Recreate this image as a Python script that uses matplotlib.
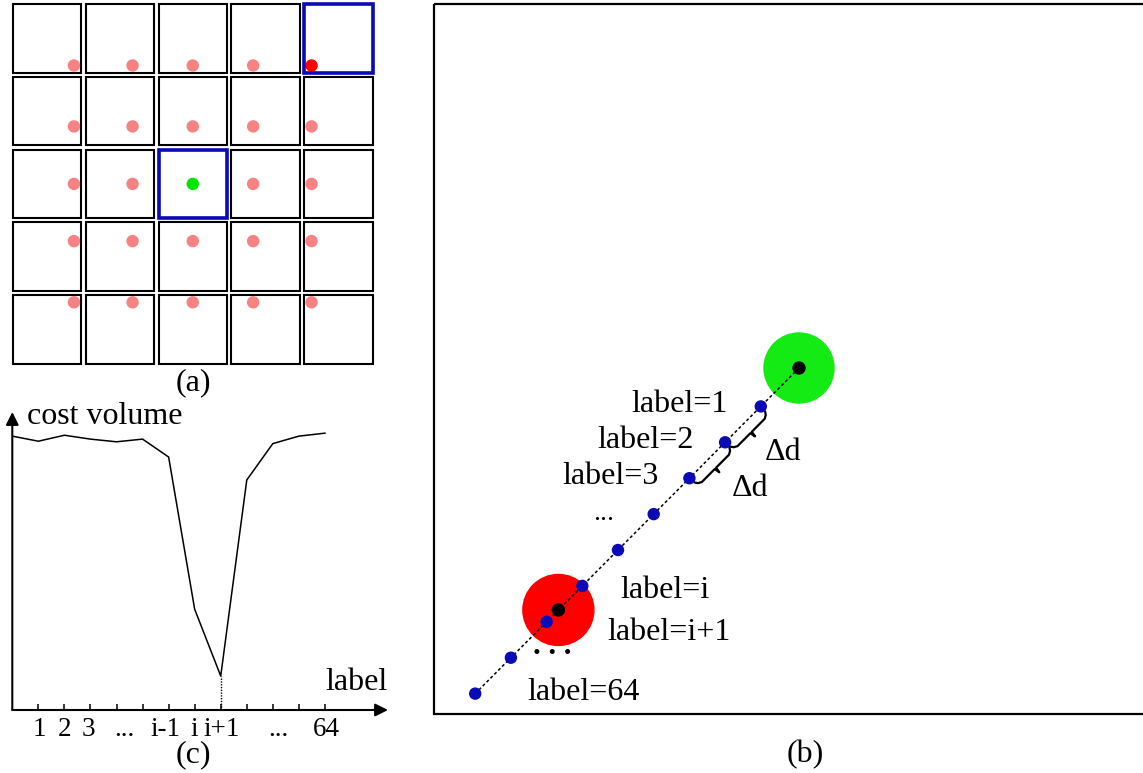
import numpy as np
import matplotlib
matplotlib.use('Agg')
import matplotlib.pyplot as plt
from matplotlib.patches import Rectangle, Circle

plt.rcParams['font.family'] = ['Liberation Serif', 'DejaVu Serif']

# (a) 5x5 sub-aperture grid: shift of the projected point in each view (px)
col_shift = [27.0, 12.7, 0.0, -12.5, -27.0]
row_shift = [27.0, 15.2, 0.0, -15.5, -27.0]
highlight = [(0, 4), (2, 2)]

# (b) candidate depths sampled along the epipolar line, in steps of delta d
sample_steps = [1.07, 2.07, 3.07, 4.07, 5.07, 6.07, 7.07, 8.07, 9.07]
sample_names = ['label=1', 'label=2', 'label=3', None, None,
                'label=i', 'label=i+1', None, 'label=64']
true_step = 6.74

# (c) cost volume over the labels
label_pos = np.arange(13)
cost = [0.919, 0.902, 0.922, 0.909, 0.900, 0.909, 0.849,
        0.338, 0.114, 0.772, 0.894, 0.919, 0.929]
tick_text = ['1', '2', '3', '...', 'i-1', 'i', 'i+1', '...', '64']
tick_at = [1.03, 2.0, 2.92, 4.32, 5.86, 7.0, 8.03, 10.2, 12.04]

BLUE = '#0A0AB6'
SALMON = '#F88282'
FS = 23

fig = plt.figure(figsize=(11.43, 7.73), dpi=100)
ax = fig.add_axes([0, 0, 1, 1])
ax.set_xlim(0, 1143)
ax.set_ylim(773, 0)
ax.axis('off')

# ---- panel (a)
x0, y0, pitch_x, pitch_y, cw, ch = 12.7, 4.3, 72.9, 72.7, 68.5, 68.4
for r in range(5):
    for c in range(5):
        cx = x0 + c * pitch_x
        cy = y0 + r * pitch_y
        ax.add_patch(Rectangle((cx, cy), cw, ch, fill=False, ec='black', lw=1.5))
        if (r, c) == (2, 2):
            col = '#00E600'
        elif (r, c) == (0, 4):
            col = '#FF0000'
        else:
            col = SALMON
        ax.add_patch(Circle((cx + cw / 2 + col_shift[c], cy + ch / 2 + row_shift[r]),
                            5.5, color=col, zorder=3))
for r, c in highlight:
    ax.add_patch(Rectangle((x0 + c * pitch_x, y0 + r * pitch_y), cw, ch,
                           fill=False, ec=BLUE, lw=2.6, zorder=4))
ax.text(193, 383, '(a)', fontsize=FS, ha='center', va='center')

# ---- panel (b)
ax.add_patch(Rectangle((434, 3.5), 800, 710, fill=False, ec='black', lw=1.6))
origin = np.array([799.0, 368.0])
step = np.array([-35.7, 35.9])
tdir = step / np.linalg.norm(step)
ndir = np.array([tdir[1], -tdir[0]])
if ndir[0] < 0:
    ndir = -ndir

pts = np.array([origin + s * step for s in sample_steps])
ax.plot([origin[0], pts[-1, 0]], [origin[1], pts[-1, 1]], color='black',
        lw=1.1, ls=(0, (2, 1.6)), zorder=2)
ax.add_patch(Circle(origin, 35, color='#14EA14', zorder=1))
red = origin + true_step * step
ax.add_patch(Circle(red, 35.5, color='#FF0000', zorder=1))
for p in (origin, red):
    ax.add_patch(Circle(p, 6, color='black', zorder=4))
for p in pts:
    ax.add_patch(Circle(p, 5.5, color=BLUE, zorder=3))

text_pos = {'label=1': (680, 404), 'label=2': (646, 440), 'label=3': (611, 477),
            'label=i': (665, 590), 'label=i+1': (669, 633), 'label=64': (584, 692)}
for name in sample_names:
    if name is not None:
        ax.text(*text_pos[name], name, fontsize=FS, ha='center', va='center')
ax.text(604, 513, '...', fontsize=20, ha='center', va='center')
ax.text(552, 646, '. . .', fontsize=22, ha='center', va='center', weight='bold')


def brace(a, b):
    """Curly brace between two samples, on the lower-right side."""
    L = np.linalg.norm(b - a)
    u = (b - a) / L
    prof = [(6.5, 0.5), (9.5, 2.5), (11.5, 6), (11.5, L / 2 - 1), (17, L / 2),
            (11.5, L / 2 + 1), (11.5, L - 6), (9.5, L - 2.5), (6.5, L - 0.5)]
    xy = np.array([a + n * ndir + t * u for n, t in prof])
    ax.plot(xy[:, 0], xy[:, 1], color='black', lw=1.6, solid_joinstyle='round',
            solid_capstyle='round')


brace(pts[0], pts[1])
brace(pts[1], pts[2])
ax.text(783, 453, '\u0394d', fontsize=FS, ha='center', va='center')
ax.text(750, 488, '\u0394d', fontsize=FS, ha='center', va='center')
ax.text(805, 755, '(b)', fontsize=FS, ha='center', va='center')

# ---- panel (c)
ax_c = fig.add_axes([12.3 / 1143, 63 / 773, (388 - 12.3) / 1143, 298 / 773])
ax_c.set_xlim(0, 14.42)
ax_c.set_ylim(0, 1)
for sp in ax_c.spines.values():
    sp.set_visible(False)
ax_c.patch.set_alpha(0)
ax_c.plot(label_pos, cost, color='black', lw=1.1)
ax_c.plot([8, 8], [0, cost[8]], color='black', lw=1.0, ls=(0, (1, 1)))
arrow = dict(arrowstyle='-|>', lw=1.5, color='black', mutation_scale=19,
             shrinkA=0, shrinkB=0)
ax_c.annotate('', xy=(14.42, 0), xytext=(0, 0), arrowprops=arrow, annotation_clip=False)
ax_c.annotate('', xy=(0, 1), xytext=(0, 0), arrowprops=arrow, annotation_clip=False)
ax_c.set_xticks(range(1, 13))
ax_c.set_yticks([])
ax_c.tick_params(axis='x', direction='in', length=4.5, width=1.1, labelbottom=False)
for x, s in zip(tick_at, tick_text):
    ax_c.text(x, -0.067, s, fontsize=19.5, ha='center', va='center',
              transform=ax_c.get_xaxis_transform())

ax.text(27, 417, 'cost volume', fontsize=FS, ha='left', va='center')
ax.text(356, 682, 'label', fontsize=FS, ha='center', va='center')
ax.text(193, 755, '(c)', fontsize=FS, ha='center', va='center')

fig.savefig('out.png', dpi=100)
